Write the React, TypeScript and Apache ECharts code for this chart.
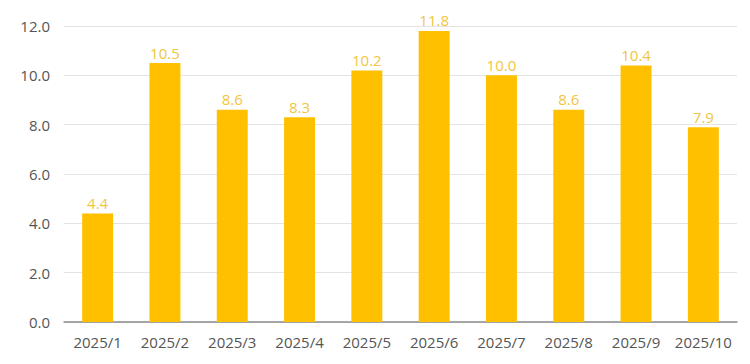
import React, { useEffect, useRef } from "react";
import * as echarts from "echarts";

const categories = ["2025/1", "2025/2", "2025/3", "2025/4", "2025/5", "2025/6", "2025/7", "2025/8", "2025/9", "2025/10"];
const values = [4.4, 10.5, 8.6, 8.3, 10.2, 11.8, 10.0, 8.6, 10.4, 7.9];
const yTicks = { min: 0, max: 12, interval: 2 };

export default function App() {
  const ref = useRef<HTMLDivElement>(null);
  useEffect(() => {
    if (!ref.current) return;
    const chart = echarts.init(ref.current, undefined, { renderer: "svg" });
    chart.setOption({
      animation: false,
      backgroundColor: "#ffffff",
      textStyle: { fontFamily: "Open Sans" },
      grid: { left: 64, right: 13, top: 26, bottom: 42, containLabel: false },
      xAxis: {
        type: "category",
        data: categories,
        axisLine: { lineStyle: { color: "#8c8c8c", width: 1.5 } },
        axisTick: { show: false },
        axisLabel: { color: "#555555", fontSize: 15, margin: 12, interval: 0, fontFamily: "Open Sans" },
      },
      yAxis: {
        type: "value",
        min: yTicks.min,
        max: yTicks.max,
        interval: yTicks.interval,
        axisLine: { show: false },
        axisTick: { show: false },
        splitLine: { lineStyle: { color: "#e3e3e3", width: 1 } },
        axisLabel: {
          color: "#555555",
          fontSize: 15,
          margin: 14,
          fontFamily: "Open Sans",
          formatter: (v: number) => v.toFixed(1),
        },
      },
      series: [
        {
          type: "bar",
          data: values,
          barWidth: "46%",
          itemStyle: { color: "#FFC000" },
          label: {
            show: true,
            position: "top",
            distance: 3,
            color: "#F0C640",
            fontSize: 15,
            fontFamily: "Open Sans",
            formatter: (p: any) => Number(p.value).toFixed(1),
          },
        },
      ],
    });
    return () => chart.dispose();
  }, []);
  return <div ref={ref} style={{ position: "fixed", left: 0, top: 0, width: 750, height: 364 }} />;
}
